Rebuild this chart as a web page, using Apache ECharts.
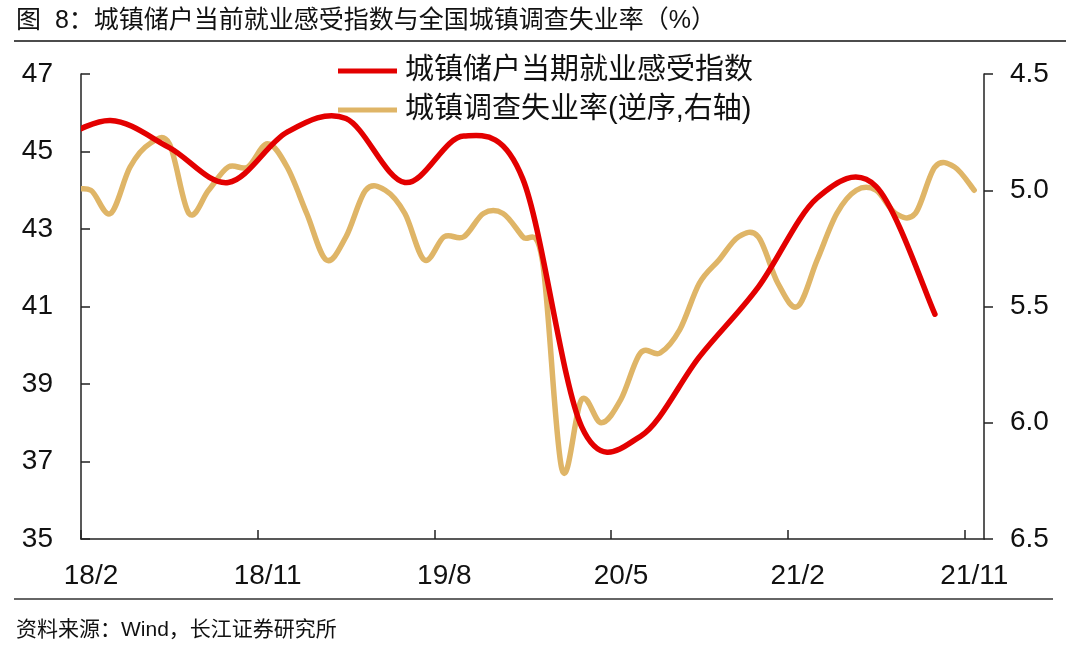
<!DOCTYPE html>
<html>
<head>
<meta charset="utf-8">
<script src="https://cdn.jsdelivr.net/npm/echarts@6/dist/echarts.min.js"></script>
<style>
html,body{margin:0;padding:0;background:#fff;}
#c{width:1080px;height:655px;}
</style>
</head>
<body>
<div id="c"></div>
<script>
// ---- data ----
const titleText = '图  8：城镇储户当前就业感受指数与全国城镇调查失业率（%）';
const sourceText = '资料来源：Wind，长江证券研究所';
const seriesNames = ['城镇储户当期就业感受指数', '城镇调查失业率(逆序,右轴)'];
const tickLabels = ['18/2', '18/11', '19/8', '20/5', '21/2', '21/11'];

// quarterly employment sentiment index (left axis)
const sentimentMonths = ['17/12','18/3','18/6','18/9','18/12','19/3','19/6','19/9','19/12',
  '20/3','20/6','20/9','20/12','21/3','21/6','21/9'];
const sentimentIndex = [45.2, 45.8, 45.1, 44.2, 45.5, 45.85, 44.2, 45.4, 44.3,
  37.9, 37.65, 39.7, 41.5, 43.8, 44.1, 40.8];

// monthly surveyed unemployment rate (right axis, inverted)
const unempMonths = ['18/1','18/2','18/3','18/4','18/5','18/6','18/7','18/8','18/9','18/10','18/11','18/12',
  '19/1','19/2','19/3','19/4','19/5','19/6','19/7','19/8','19/9','19/10','19/11','19/12',
  '20/1','20/2','20/3','20/4','20/5','20/6','20/7','20/8','20/9','20/10','20/11','20/12',
  '21/1','21/2','21/3','21/4','21/5','21/6','21/7','21/8','21/9','21/10','21/11'];
const unempRate = [5.0,5.0,5.1,4.9,4.8,4.8,5.1,5.0,4.9,4.9,4.8,4.9,
  5.1,5.3,5.2,5.0,5.0,5.1,5.3,5.2,5.2,5.1,5.1,5.2,
  5.3,6.2,5.9,6.0,5.9,5.7,5.7,5.6,5.4,5.3,5.2,5.2,
  5.4,5.5,5.3,5.1,5.0,5.0,5.1,5.1,4.9,4.9,5.0];

// month label -> position on the x scale (each month is a band; 18/2 occupies [0,1])
function monthPos(lbl) {
  const p = lbl.split('/');
  return (parseInt(p[0], 10) - 18) * 12 + (parseInt(p[1], 10) - 2) + 0.5;
}

const red = '#e30000';
const tan = '#dfb567';
const axisColor = '#222';
const latin = 'Liberation Sans, Arial, Noto Sans CJK SC, sans-serif';
const cjk = 'Liberation Sans, Noto Sans CJK SC, sans-serif';

// Catmull-Rom (spreadsheet-style) smoothed path through points mapped by the axes
function smoothLine(color) {
  return function (params, api) {
    if (params.dataIndex !== 0) return null;
    const n = params.dataInsideLength;
    const pts = [];
    for (let k = 0; k < n; k++) {
      pts.push(api.coord([api.value(0, k), api.value(1, k)]));
    }
    let d = 'M' + pts[0][0] + ' ' + pts[0][1];
    for (let k = 0; k < n - 1; k++) {
      const p0 = pts[Math.max(k - 1, 0)], p1 = pts[k], p2 = pts[k + 1], p3 = pts[Math.min(k + 2, n - 1)];
      const c1x = p1[0] + (p2[0] - p0[0]) / 6, c1y = p1[1] + (p2[1] - p0[1]) / 6;
      const c2x = p2[0] - (p3[0] - p1[0]) / 6, c2y = p2[1] - (p3[1] - p1[1]) / 6;
      d += ' C' + c1x + ' ' + c1y + ' ' + c2x + ' ' + c2y + ' ' + p2[0] + ' ' + p2[1];
    }
    const cs = params.coordSys;
    return {
      type: 'path',
      shape: {pathData: d},
      style: {stroke: color, lineWidth: 5.5, fill: 'none', lineCap: 'round', lineJoin: 'round'},
      clipPath: {type: 'rect', shape: {x: cs.x, y: cs.y - 10, width: cs.width, height: cs.height + 20}},
      silent: true
    };
  };
}

const chart = echarts.init(document.getElementById('c'), null, {renderer: 'canvas'});
chart.setOption({
  animation: false,
  backgroundColor: '#fff',
  grid: {left: 81, right: 96, top: 74, bottom: 116, containLabel: false},
  legend: {
    orient: 'vertical',
    left: 333,
    top: 51,
    itemWidth: 59,
    itemHeight: 5,
    itemGap: 9,
    icon: 'rect',
    textStyle: {fontFamily: cjk, fontSize: 29, color: '#111', lineHeight: 30, padding: [0, 0, 0, 3]},
    data: seriesNames
  },
  xAxis: {
    type: 'value',
    min: 0,
    max: 46,
    interval: 9,
    axisLine: {show: true, lineStyle: {color: axisColor, width: 1.5}},
    axisTick: {show: true, inside: true, length: 9, lineStyle: {color: axisColor, width: 1.5}},
    splitLine: {show: false},
    axisLabel: {
      margin: 23,
      color: '#111',
      fontFamily: latin,
      fontSize: 28,
      formatter: function (v) {
        const k = Math.round(v / 9);
        return tickLabels[k] !== undefined ? '{a|' + tickLabels[k] + '}' : '';
      },
      rich: {a: {fontFamily: latin, fontSize: 28, color: '#111', padding: [0, 0, 0, 20]}}
    }
  },
  yAxis: [{
    type: 'value',
    min: 35, max: 47, interval: 2,
    axisLine: {show: true, lineStyle: {color: axisColor, width: 1.5}},
    axisTick: {show: true, inside: true, length: 9, lineStyle: {color: axisColor, width: 1.5}},
    splitLine: {show: false},
    axisLabel: {margin: 28, color: '#111', fontFamily: latin, fontSize: 28}
  }, {
    type: 'value',
    position: 'right',
    inverse: true,
    min: 4.5, max: 6.5, interval: 0.5,
    axisLine: {show: true, lineStyle: {color: axisColor, width: 1.5}},
    axisTick: {show: true, inside: false, length: 9, lineStyle: {color: axisColor, width: 1.5}},
    splitLine: {show: false},
    axisLabel: {margin: 26, color: '#111', fontFamily: latin, fontSize: 28,
      formatter: function (v) { return v.toFixed(1); }}
  }],
  graphic: [
    {type: 'text', left: 16, top: 9, style: {text: titleText, font: '25px ' + cjk, fill: '#111'}},
    {type: 'line', shape: {x1: 14, y1: 41, x2: 1066, y2: 41}, style: {stroke: '#111', lineWidth: 1.5}},
    {type: 'line', shape: {x1: 14, y1: 599, x2: 1053, y2: 599}, style: {stroke: '#333', lineWidth: 1.5}},
    {type: 'text', left: 16, top: 620, style: {text: sourceText, font: '21px ' + cjk, fill: '#111'}}
  ],
  series: [{
    name: seriesNames[0],
    type: 'custom',
    yAxisIndex: 0,
    itemStyle: {color: red},
    renderItem: smoothLine(red),
    encode: {x: 0, y: 1},
    data: sentimentMonths.map((m, i) => [monthPos(m), sentimentIndex[i]]),
    z: 3
  }, {
    name: seriesNames[1],
    type: 'custom',
    yAxisIndex: 1,
    itemStyle: {color: tan},
    renderItem: smoothLine(tan),
    encode: {x: 0, y: 1},
    data: unempMonths.map((m, i) => [monthPos(m), unempRate[i]]),
    z: 2
  }]
});
</script>
</body>
</html>
